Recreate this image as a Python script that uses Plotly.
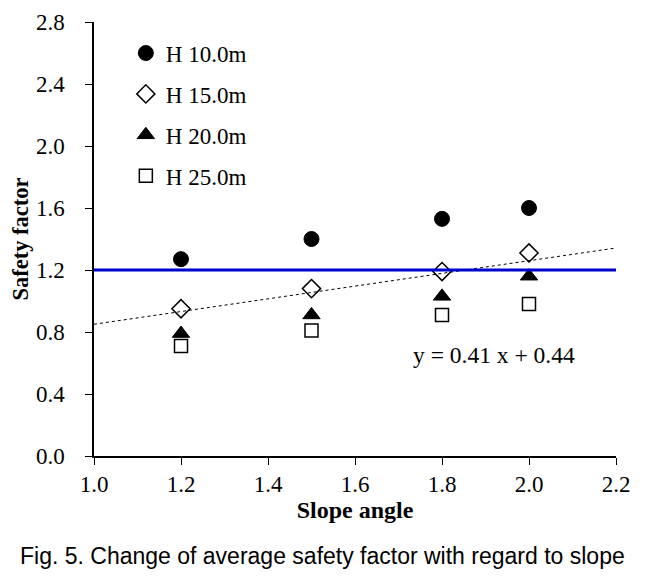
import plotly.graph_objects as go

slope = [1.2, 1.5, 1.8, 2.0]
h10 = [1.27, 1.40, 1.53, 1.60]
h15 = [0.95, 1.08, 1.19, 1.31]
h20 = [0.79, 0.91, 1.03, 1.16]
h25 = [0.71, 0.81, 0.91, 0.98]
names = ["H 10.0m", "H 15.0m", "H 20.0m", "H 25.0m"]

fit_x = [1.0, 2.2]
fit_slope, fit_icpt = 0.41, 0.44
fit_y = [fit_slope * x + fit_icpt for x in fit_x]
criterion = 1.2

serif = "Liberation Serif"
fig = go.Figure()
styles = [
    dict(symbol="circle", size=15, color="black", line=dict(color="black", width=1)),
    dict(symbol="diamond-open", size=14, color="black", line=dict(color="black", width=1.5)),
    dict(symbol="triangle-up", size=15, color="black", line=dict(color="black", width=1)),
    dict(symbol="square-open", size=13, color="black", line=dict(color="black", width=1.5)),
]
for i, (vals, nm) in enumerate(zip([h10, h15, h20, h25], names)):
    fig.add_trace(go.Scatter(x=slope, y=vals, mode="markers", name=nm,
                             marker=styles[i], legendgroup=f"g{i}"))

fig.add_trace(go.Scatter(x=fit_x, y=fit_y, mode="lines", showlegend=False,
                         line=dict(color="black", width=1, dash="dot")))
fig.add_trace(go.Scatter(x=fit_x, y=[criterion, criterion], mode="lines", showlegend=False,
                         line=dict(color="#0000cc", width=3)))

fig.update_layout(
    width=632, height=561,
    margin=dict(l=86, r=24, t=14, b=113),
    paper_bgcolor="white", plot_bgcolor="white",
    font=dict(family=serif, size=23, color="black"),
    legend=dict(x=0.061, y=0.978, xanchor="left", yanchor="top",
                bgcolor="rgba(0,0,0,0)", font=dict(size=23, family=serif),
                tracegroupgap=8, itemwidth=30),
    xaxis=dict(range=[1.0, 2.2], tickvals=[1.0, 1.2, 1.4, 1.6, 1.8, 2.0, 2.2],
               ticktext=["1.0", "1.2", "1.4", "1.6", "1.8", "2.0", "2.2"],
               showline=True, linecolor="black", linewidth=1.5, ticks="outside",
               ticklen=7, tickcolor="black", ticklabelstandoff=0,
               showgrid=False, zeroline=False, automargin=False,
               title=dict(text="<b>Slope angle</b>", font=dict(size=24, family=serif), standoff=0)),
    yaxis=dict(range=[0, 2.8], tickvals=[0, 0.4, 0.8, 1.2, 1.6, 2.0, 2.4, 2.8],
               ticktext=["0.0", "0.4", "0.8", "1.2", "1.6", "2.0", "2.4", "2.8"],
               showline=True, linecolor="black", linewidth=1.5, ticks="outside",
               ticklen=7, tickcolor="black", ticklabelstandoff=16,
               showgrid=False, zeroline=False, automargin=False,
               title=dict(text="<b>Safety factor</b>", font=dict(size=22.5, family=serif), standoff=4)),
    annotations=[
        dict(x=1.728, y=0.65, xref="x", yref="y", text="y = 0.41 x + 0.44", showarrow=False,
             xanchor="left", yanchor="middle", font=dict(size=23.5, family=serif)),
        dict(x=0.4377, y=0, xref="paper", yref="paper", yshift=-100, xanchor="center", yanchor="middle",
             text="Fig. 5. Change of average safety factor with regard to slope", showarrow=False,
             font=dict(size=23, family="Liberation Sans")),
    ],
)
fig.write_html("out.html")
